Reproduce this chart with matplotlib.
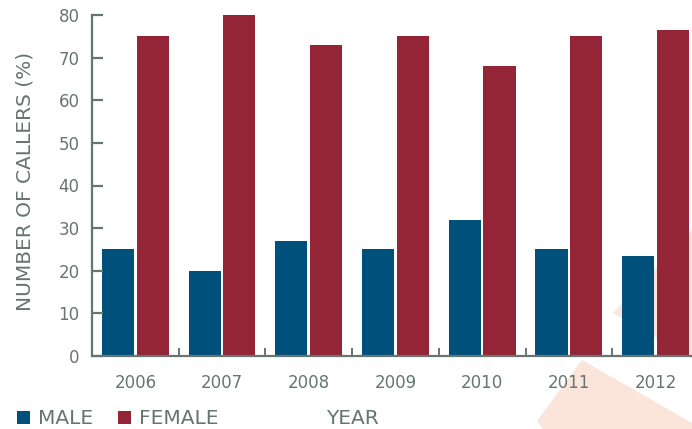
import numpy as np
import matplotlib
matplotlib.use('Agg')
import matplotlib.pyplot as plt
from matplotlib.patches import Polygon, Rectangle

years = ['2006', '2007', '2008', '2009', '2010', '2011', '2012']
male = [25, 20, 27, 25, 32, 25, 23.5]
female = [75, 80, 73, 75, 68, 75, 76.5]

MALE_C = '#00507c'
FEMALE_C = '#942537'
GREY = '#66756f'
PEACH = '#fbe4da'

plt.rcParams['font.family'] = ['DejaVu Sans']

fig = plt.figure(figsize=(6.92, 4.29), dpi=100)

# faint decorative shapes behind the chart (pixel coords)
bg = fig.add_axes([0, 0, 1, 1], zorder=0)
bg.set_xlim(0, 692)
bg.set_ylim(429, 0)
bg.axis('off')
bg.add_patch(Polygon([(582, 360), (537, 421), (543, 429), (692, 429), (692, 423)],
                     closed=True, color=PEACH, lw=0))
bg.add_patch(Polygon([(613, 313), (692, 230), (692, 358)], closed=True,
                     color=PEACH, lw=0))

ax = fig.add_axes([92 / 692, 1 - 356 / 429, 600 / 692, 341 / 429], zorder=1)
ax.patch.set_alpha(0)

x = np.arange(len(years))
w = 0.37
ax.bar(x - 0.2, male, w, color=MALE_C)
ax.bar(x + 0.2, female, w, color=FEMALE_C)

ax.set_xlim(-0.5, 6.42)
ax.set_ylim(0, 80)
ax.set_yticks(range(0, 81, 10))
ax.set_xticks(x)
ax.set_xticklabels(years)
ax.set_xticks(x[:-1] + 0.5, minor=True)

for s in ['top', 'right']:
    ax.spines[s].set_visible(False)
for s in ['left', 'bottom']:
    ax.spines[s].set_color(GREY)
    ax.spines[s].set_linewidth(1.6)

ax.tick_params(axis='y', direction='in', length=8, width=1.6, color=GREY,
               labelcolor=GREY, labelsize=12, pad=9)
ax.tick_params(axis='x', which='major', length=0, labelcolor=GREY,
               labelsize=12, pad=13)
ax.tick_params(axis='x', which='minor', direction='in', length=6, width=1.4,
               color=GREY)

fig.text(25 / 692, 1 - 181 / 429, 'NUMBER OF CALLERS (%)', rotation=90,
         ha='center', va='center', color=GREY, fontsize=14.5)
fig.text(352 / 692, 1 - 418 / 429, 'YEAR', ha='center', va='center',
         color=GREY, fontsize=14.5)

# legend: squares + labels
for x0, col, lbl in [(17, MALE_C, 'MALE'), (118, FEMALE_C, 'FEMALE')]:
    bg.add_patch(Rectangle((x0, 411), 13, 13, color=col, lw=0))
    fig.text((x0 + 21) / 692, 1 - 418 / 429, lbl, ha='left', va='center',
             color=GREY, fontsize=14.5)

fig.savefig('out.png', dpi=100)
